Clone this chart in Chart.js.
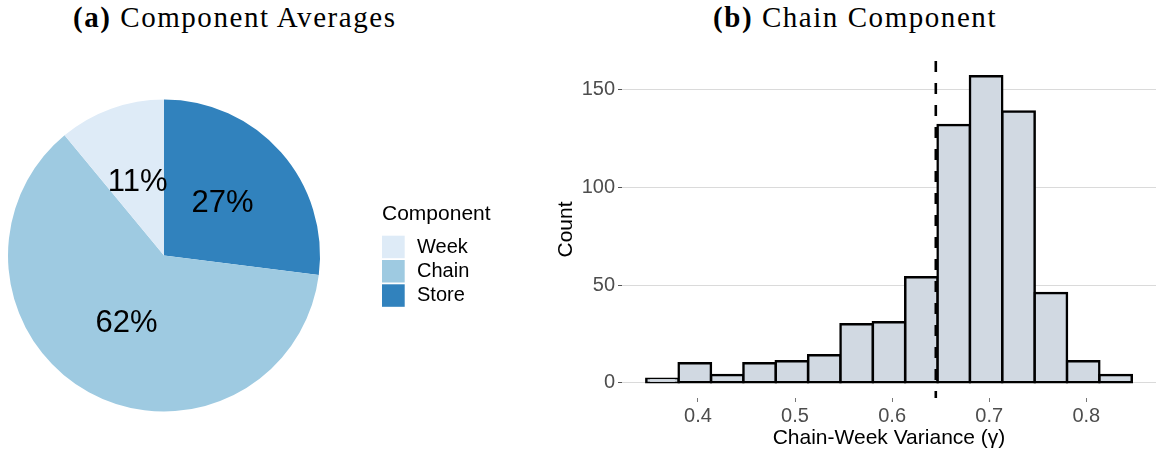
<!DOCTYPE html>
<html>
<head>
<meta charset="utf-8">
<script src="https://cdn.jsdelivr.net/npm/chart.js@4.4.1/dist/chart.umd.min.js"></script>
<style>
  body { margin: 0; background: #fff; }
  #page { position: relative; width: 1157px; height: 455px; overflow: hidden; }
  .ttl { position: absolute; top: 3px; font: 29px/29px 'Liberation Serif', 'Times New Roman', serif; letter-spacing: 1.55px; color: #000; white-space: nowrap; }
  .ttl b { font-weight: 700; }
  canvas { position: absolute; }
</style>
</head>
<body>
<div id="page">
  <div class="ttl" style="left:73px"><b>(a)</b> Component Averages</div>
  <div class="ttl" style="left:713px"><b>(b)</b> Chain Component</div>
  <canvas id="pie" width="560" height="415" style="left:0;top:40px"></canvas>
  <canvas id="hist" width="609" height="415" style="left:548px;top:40px"></canvas>
</div>
<script>
// panel (a): share of variance by component (legend order)
const components = ['Week', 'Chain', 'Store'];
const shares = [11, 62, 27];
const compColors = ['#deebf7', '#9ecae1', '#3182bd'];

// panel (b): histogram of chain-week variance share
const binMids = [0.3635, 0.3968, 0.4302, 0.4635, 0.4968, 0.5302, 0.5635, 0.5968,
                 0.6302, 0.6635, 0.6968, 0.7302, 0.7635, 0.7968, 0.8302];
const binCounts = [2, 10, 4, 10, 11, 14, 30, 31, 54, 132, 157, 139, 46, 11, 4];
const xTicks = [0.4, 0.5, 0.6, 0.7, 0.8];
const yTicks = [0, 50, 100, 150];
const gammaMean = 0.645;

Chart.defaults.font.family = "'Liberation Sans', Arial, sans-serif";
Chart.defaults.animation = false;
Chart.defaults.events = [];
Chart.defaults.plugins.legend.display = false;
Chart.defaults.plugins.tooltip.enabled = false;

// percent text in the middle of each slice
const sliceLabels = {
  id: 'sliceLabels',
  afterDatasetsDraw(chart) {
    const ctx = chart.ctx;
    const ds = chart.data.datasets[0];
    ctx.save();
    ctx.font = "31px 'Liberation Sans', Arial, sans-serif";
    ctx.fillStyle = '#000';
    ctx.textAlign = 'center';
    ctx.textBaseline = 'middle';
    chart.getDatasetMeta(0).data.forEach((arc, i) => {
      const p = arc.getCenterPoint();
      ctx.fillText(ds.data[i] + '%', p.x, p.y);
    });
    ctx.restore();
  }
};

// ggplot-like legend to the right of the pie
const sideLegend = {
  id: 'sideLegend',
  afterDraw(chart) {
    const ctx = chart.ctx;
    const area = chart.chartArea;
    const x = area.right + 62;
    const cy = (area.top + area.bottom) / 2;
    ctx.save();
    ctx.fillStyle = '#000';
    ctx.textAlign = 'left';
    ctx.textBaseline = 'middle';
    ctx.font = "21px 'Liberation Sans', Arial, sans-serif";
    ctx.fillText('Component', x, cy - 41.5);
    ctx.font = "20px 'Liberation Sans', Arial, sans-serif";
    components.forEach((name, i) => {
      const top = cy - 19.8 + i * 24.3;
      ctx.fillStyle = compColors[i];
      ctx.fillRect(x, top, 22.7, 22.5);
      ctx.fillStyle = '#000';
      ctx.fillText(name, x + 35, top + 11.5);
    });
    ctx.restore();
  }
};

new Chart(document.getElementById('pie'), {
  type: 'pie',
  data: {
    labels: components.slice().reverse(),
    datasets: [{
      data: shares.slice().reverse(),
      backgroundColor: compColors.slice().reverse(),
      borderWidth: 0
    }]
  },
  options: {
    responsive: false,
    layout: { padding: { left: 8, right: 240, top: 59.5, bottom: 43.5 } }
  },
  plugins: [sliceLabels, sideLegend]
});

// dashed vertical line at the mean
const meanLine = {
  id: 'meanLine',
  afterDatasetsDraw(chart) {
    const { ctx, chartArea, scales } = chart;
    const x = scales.x.getPixelForValue(gammaMean);
    ctx.save();
    ctx.strokeStyle = '#000';
    ctx.lineWidth = 2.6;
    ctx.setLineDash([11, 11]);
    ctx.beginPath();
    ctx.moveTo(x, chartArea.top);
    ctx.lineTo(x, chartArea.bottom);
    ctx.stroke();
    ctx.restore();
  }
};

new Chart(document.getElementById('hist'), {
  type: 'bar',
  data: {
    datasets: [{
      data: binMids.map((m, i) => ({ x: m, y: binCounts[i] })),
      backgroundColor: '#d1d9e2',
      borderColor: '#000',
      borderWidth: 2.5,
      borderSkipped: false,
      inflateAmount: 1.25,
      barPercentage: 1,
      categoryPercentage: 1
    }]
  },
  options: {
    responsive: false,
    layout: { padding: { top: 21, right: 1, left: 0, bottom: 0 } },
    scales: {
      x: {
        type: 'linear',
        min: 0.3218,
        max: 0.8718,
        offset: false,
        afterBuildTicks: s => { s.ticks = xTicks.map(v => ({ value: v })); },
        afterFit: s => { s.height = 57; },
        grid: { drawOnChartArea: false, tickLength: 4, tickColor: '#777', offset: false },
        border: { display: false },
        ticks: {
          color: '#4d4d4d', font: { size: 20 }, padding: 2,
          maxRotation: 0, autoSkip: false,
          callback: v => v.toFixed(1)
        },
        title: {
          display: true, text: 'Chain-Week Variance (γ)', color: '#000',
          font: { size: 21 }, padding: { top: 0, bottom: 4 }
        }
      },
      y: {
        min: -7.85,
        max: 164.85,
        afterBuildTicks: s => { s.ticks = yTicks.map(v => ({ value: v })); },
        afterFit: s => { s.width = 74; },
        grid: { color: '#dadada', lineWidth: 1, tickLength: 4, tickColor: '#555' },
        border: { display: false },
        ticks: { color: '#4d4d4d', font: { size: 20 }, padding: 3 },
        title: {
          display: true, text: 'Count', color: '#000',
          font: { size: 21 }, padding: { top: 6, bottom: 0 }
        }
      }
    }
  },
  plugins: [meanLine]
});
</script>
</body>
</html>
